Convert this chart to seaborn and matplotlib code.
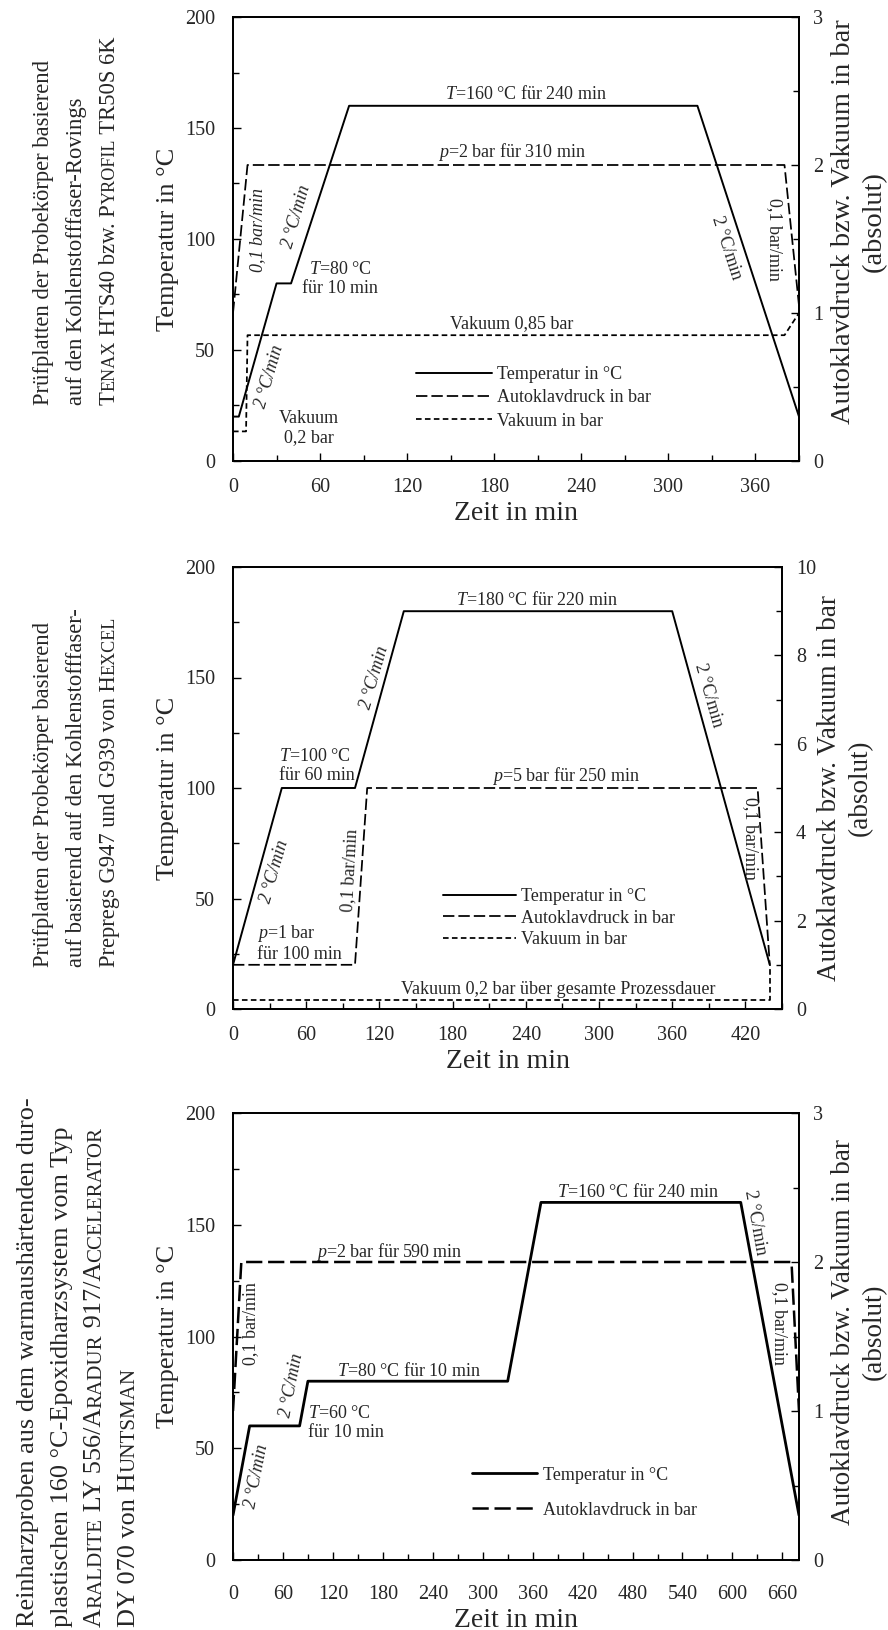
import numpy as np
import pandas as pd
import matplotlib
matplotlib.use("Agg")
import matplotlib.pyplot as plt
import seaborn as sns
from matplotlib.ticker import MultipleLocator

# panel 1: Rovings (TENAX / PYROFIL)
t1_temp = [0, 4, 30, 40, 80, 320, 390]
T1 = [20, 20, 80, 80, 160, 160, 20]
t1_p = [0, 10, 380, 390]
p1 = [1.0, 2.0, 2.0, 1.05]
t1_vac = [0, 9, 10, 380, 390]
vac1 = [0.2, 0.2, 0.85, 0.85, 1.0]

# panel 2: Prepregs (HEXCEL)
t2_temp = [0, 40, 100, 140, 360, 440]
T2 = [20, 100, 100, 180, 180, 20]
t2_p = [0, 100, 110, 430, 440]
p2 = [1, 1, 5, 5, 1]
t2_vac = [0, 440, 440]
vac2 = [0.2, 0.2, 1.0]

# panel 3: Reinharz (HUNTSMAN)
t3_temp = [0, 20, 80, 90, 330, 370, 610, 680]
T3 = [20, 60, 60, 80, 80, 160, 160, 20]
t3_p = [0, 10, 671, 680]
p3 = [1, 2, 2, 1]

leg_labels = ["Temperatur in °C", "Autoklavdruck in bar", "Vakuum in bar"]

# annotations: (t, T, text, rotation, ha, italic)
notes1 = [
    (202, 165.5, "$T$=160 °C für 240 min", 0, "center", False),
    (192, 139, "$p$=2 bar für 310 min", 0, "center", False),
    (17, 104, "0,1 bar/min", 90, "center", True),
    (44, 110, "2 °C/min", 74, "center", True),
    (74, 82, "$T$=80 °C\nfür 10 min", 0, "center", False),
    (192, 62, "Vakuum 0,85 bar", 0, "center", False),
    (25, 38, "2 °C/min", 74, "center", True),
    (52, 15, "Vakuum\n0,2 bar", 0, "center", False),
    (340, 96, "2 °C/min", -72, "center", False),
    (373, 100, "0,1 bar/min", -90, "center", False),
]
notes2 = [
    (249, 185, "$T$=180 °C für 220 min", 0, "center", False),
    (116, 150, "2 °C/min", 74, "center", True),
    (38, 110, "$T$=100 °C\nfür 60 min", 0, "left", False),
    (273, 105.5, "$p$=5 bar für 250 min", 0, "center", False),
    (390, 142, "2 °C/min", -74, "center", False),
    (424, 77, "0,1 bar/min", -90, "center", False),
    (34, 62, "2 °C/min", 74, "center", True),
    (96, 63, "0,1 bar/min", 87, "center", False),
    (20, 30, "$p$=1 bar\nfür 100 min", 0, "left", False),
    (267, 9, "Vakuum 0,2 bar über gesamte Prozessdauer", 0, "center", False),
]
notes3 = [
    (487, 164.5, "$T$=160 °C für 240 min", 0, "center", False),
    (627, 151, "2 °C/min", -80, "center", False),
    (188, 138, "$p$=2 bar für 590 min", 0, "center", False),
    (21, 106, "0,1 bar/min", 90, "center", False),
    (657, 106, "0,1 bar/min", -90, "center", False),
    (71, 78, "2 °C/min", 79, "center", True),
    (211, 84.5, "$T$=80 °C für 10 min", 0, "center", False),
    (90, 61.5, "$T$=60 °C\nfür 10 min", 0, "left", False),
    (28, 37.5, "2 °C/min", 79, "center", True),
]

# side captions: list of lines, each a list of (text, small-caps flag)
side1 = [
    [("Prüfplatten der Probekörper basierend", 0)],
    [("auf den Kohlenstofffaser-Rovings", 0)],
    [("T", 0), ("ENAX", 1), (" HTS40 bzw. P", 0), ("YROFIL", 1), (" TR50S 6K", 0)],
]
side2 = [
    [("Prüfplatten der Probekörper basierend", 0)],
    [("auf basierend auf den Kohlenstofffaser-", 0)],
    [("Prepregs G947 und G939 von H", 0), ("EXCEL", 1)],
]
side3 = [
    [("Reinharzproben aus dem warmaushärtenden duro-", 0)],
    [("plastischen 160 °C-Epoxidharzsystem vom Typ", 0)],
    [("A", 0), ("RALDITE", 1), (" LY 556/A", 0), ("RADUR", 1), (" 917/A", 0), ("CCELERATOR", 1)],
    [("DY 070 von H", 0), ("UNTSMAN", 1)],
]

sns.set_style("ticks")
plt.rcParams["font.family"] = ["Liberation Serif", "DejaVu Serif"]
plt.rcParams["mathtext.fontset"] = "custom"
plt.rcParams["mathtext.rm"] = "Liberation Serif"
plt.rcParams["mathtext.it"] = "Liberation Serif:italic"
plt.rcParams["xtick.direction"] = "in"
plt.rcParams["ytick.direction"] = "in"

W, H = 888, 1630
fig = plt.figure(figsize=(W / 100, H / 100), dpi=100)

LONG = (0, (6.5, 2.3))
SHORT = (0, (3.2, 1.9))


def panel(rect, xmax, pmax, pstep, temp, pres, vac, notes, leg_pos, lw, legsp,
          hlen, rsize, xpad, rlab):
    ax = fig.add_axes(rect)
    ax2 = ax.twinx()
    sns.lineplot(x=temp[0], y=temp[1], ax=ax, color="k", lw=lw, sort=False, estimator=None)
    h = [ax.lines[-1]]
    sns.lineplot(x=pres[0], y=pres[1], ax=ax2, color="k", lw=lw * 0.9, sort=False,
                 estimator=None, linestyle=LONG)
    h.append(ax2.lines[-1])
    if vac is not None:
        sns.lineplot(x=vac[0], y=vac[1], ax=ax2, color="k", lw=lw * 0.9, sort=False,
                     estimator=None, linestyle=SHORT)
        h.append(ax2.lines[-1])
    ax.set_xlim(0, xmax)
    ax.set_ylim(0, 200)
    ax2.set_ylim(0, pmax)
    ax.xaxis.set_major_locator(MultipleLocator(60))
    ax.xaxis.set_minor_locator(MultipleLocator(30))
    ax.yaxis.set_major_locator(MultipleLocator(50))
    ax.yaxis.set_minor_locator(MultipleLocator(25))
    ax2.yaxis.set_major_locator(MultipleLocator(pstep))
    ax2.yaxis.set_minor_locator(MultipleLocator(pstep / 2))
    for a in (ax, ax2):
        a.tick_params(which="major", length=6, width=1, labelsize=14.5, color="k")
        a.tick_params(which="minor", length=4, width=1, color="k")
        for s in a.spines.values():
            s.set_linewidth(1.3)
            s.set_color("k")
    ax.tick_params(axis="x", which="major", pad=xpad)
    ax.tick_params(axis="y", which="major", pad=13)
    ax2.tick_params(axis="y", which="major", pad=10)
    ax.set_xlabel("Zeit in min", fontsize=20, labelpad=3)
    ax.set_ylabel("Temperatur in °C", fontsize=19, labelpad=4)
    ax2.set_ylabel("Autoklavdruck bzw. Vakuum in bar\n(absolut)", fontsize=rsize,
                   linespacing=1.3)
    ax2.yaxis.set_label_coords(*rlab)
    for (x, y, s, rot, ha, it) in notes:
        ax.text(x, y, s, rotation=rot, ha=ha, va="center", fontsize=13,
                style="italic" if it else "normal", linespacing=1.15,
                rotation_mode="anchor")
    ax2.legend(h, leg_labels[:len(h)], loc="upper left", bbox_to_anchor=leg_pos,
               frameon=False, fontsize=13, handlelength=hlen, handletextpad=0.3,
               labelspacing=legsp, borderaxespad=0)
    return ax, ax2


panel([233 / W, 1 - 461 / H, (799 - 233) / W, 444 / H], 390, 3, 1,
      (t1_temp, T1), (t1_p, p1), (t1_vac, vac1), notes1, (0.31, 0.23),
      1.4, 0.35, 4.2, 20.5, 12, (1.056, 0.54))
panel([233 / W, 1 - 1009 / H, (782 - 233) / W, 442 / H], 450, 10, 2,
      (t2_temp, T2), (t2_p, p2), (t2_vac, vac2), notes2, (0.37, 0.29),
      1.4, 0.25, 4.0, 19.5, 12, (1.064, 0.5))
panel([233 / W, 1 - 1560 / H, (799 - 233) / W, 447 / H], 680, 3, 1,
      (t3_temp, T3), (t3_p, p3), None, notes3, (0.41, 0.225),
      2.0, 1.0, 3.6, 19.5, 18, (1.056, 0.51))

renderer = fig.canvas.get_renderer()


def side_text(x_px, y_px, parts, size):
    # vertical line of text, drawn piece by piece to mimic small caps
    y = y_px
    for s, sc in parts:
        t = fig.text(x_px / W, y / H, s, rotation=90, rotation_mode="anchor",
                     ha="left", va="baseline", fontsize=size * (0.8 if sc else 1.0))
        bb = t.get_window_extent(renderer)
        y += bb.height


for i, line in enumerate(side1):
    side_text(49 + 33 * i, 1630 - 405, line, 16.3)
for i, line in enumerate(side2):
    side_text(49 + 33 * i, 1630 - 967, line, 16.3)
for i, line in enumerate(side3):
    side_text(34 + 33.5 * i, 3, line, 18.9)

fig.savefig("out.png", dpi=100)
